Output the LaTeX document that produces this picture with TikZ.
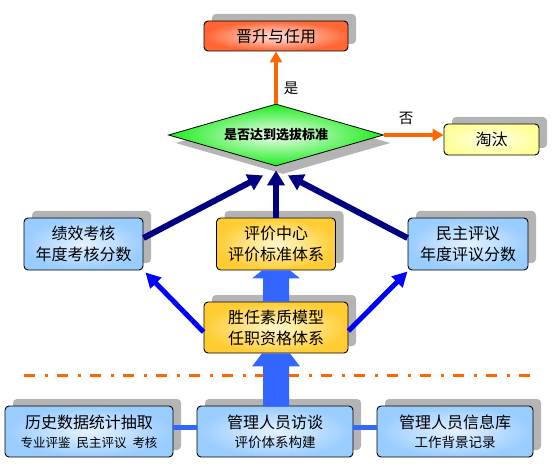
\documentclass[tikz,border=0pt]{standalone}
\usepackage{fontspec}
\newfontfamily\cjk{Noto Sans CJK SC}
\usetikzlibrary{shapes.geometric,shadows,arrows.meta}
\definecolor{bluefill}{RGB}{153,204,255}
\definecolor{bluein}{RGB}{228,242,255}
\definecolor{goldfill}{RGB}{255,204,51}
\definecolor{goldin}{RGB}{255,248,205}
\definecolor{redfill}{RGB}{255,102,51}
\definecolor{redin}{RGB}{255,228,228}
\definecolor{lemonfill}{RGB}{255,255,153}
\definecolor{lemonin}{RGB}{255,255,235}
\definecolor{greenfill}{RGB}{30,235,30}
\definecolor{greenin}{RGB}{242,255,242}
\definecolor{navyc}{RGB}{0,0,128}
\definecolor{bluec}{RGB}{0,0,255}
\definecolor{blockc}{RGB}{51,102,255}
\definecolor{orangec}{RGB}{255,102,0}
\definecolor{shadowc}{RGB}{180,180,180}
\tikzset{
  box/.style={rectangle, rounded corners=4pt, draw=black, line width=0.9pt,
    inner sep=0pt, align=center, text=black,
    font=\cjk\fontsize{16}{21}\selectfont,
    general shadow={shadow xshift=8pt, shadow yshift=7pt, fill=shadowc, draw=none}},
  bluebox/.style={box, inner color=bluein, outer color=bluefill},
  goldbox/.style={box, inner color=goldin, outer color=goldfill},
  redbox/.style={box, inner color=redin, outer color=redfill},
  lemonbox/.style={box, inner color=lemonin, outer color=lemonfill},
  decision/.style={diamond, aspect=3.47, draw=black, line width=0.8pt, inner sep=0pt,
    inner color=greenin, outer color=greenfill,
    font=\cjk\bfseries\fontsize{13}{15}\selectfont,
    general shadow={shadow xshift=7pt, shadow yshift=-8pt, fill=shadowc, draw=none}},
  orangearrow/.style={draw=orangec, line width=4pt, -{Triangle[length=11pt,width=12pt]}},
  navyarrow/.style={draw=navyc, line width=6pt, -{Triangle[length=15pt,width=17pt]}},
  bluearrow/.style={draw=bluec, line width=5pt, -{Triangle[length=15pt,width=15pt]}},
  blockarrow/.style={fill=blockc, draw=none},
  linkline/.style={draw=blockc, line width=5pt},
  sepline/.style={draw=orangec, line width=3pt, dash pattern=on 11pt off 10pt on 3pt off 9pt},
  lbl/.style={font=\cjk\fontsize{14.5}{16}\selectfont, inner sep=0pt}
}
\newcommand{\smalltext}{\fontsize{12.5}{14}\selectfont}
\begin{document}
\begin{tikzpicture}[x=1pt,y=-1pt]
\useasboundingbox (0,0) rectangle (552,468);
% separator
\coordinate (dl) at (24,375);
\coordinate (dr) at (531,375);
\draw[sepline] (dl) -- (dr);
% nodes
\node[redbox, minimum width=144pt, minimum height=30pt] (jin) at (276,36) {晋升与任用};
\node[decision, minimum width=215pt, minimum height=62pt] (dec) at (276,135) {是否达到选拔标准};
\node[lemonbox, minimum width=95pt, minimum height=31pt] (tt) at (491.5,139.5) {淘汰};
\node[bluebox, minimum width=119pt, minimum height=52pt] (jx) at (83.5,244) {绩效考核\\年度考核分数};
\node[goldbox, minimum width=119pt, minimum height=52pt] (pj) at (276,244) {评价中心\\评价标准体系};
\node[bluebox, minimum width=120pt, minimum height=52pt] (mz) at (468,244) {民主评议\\年度评议分数};
\node[goldbox, minimum width=144pt, minimum height=51pt] (sr) at (276,327.5) {胜任素质模型\\任职资格体系};
\node[bluebox, minimum width=168pt, minimum height=51pt] (ls) at (89,431.5) {历史数据统计抽取\\[-2pt]{\smalltext 专业评鉴\hspace{6pt}民主评议\hspace{6pt}考核}};
\node[bluebox, minimum width=156pt, minimum height=51pt] (ft) at (275,431.5) {管理人员访谈\\[-2pt]{\smalltext\fontsize{13.5}{14}\selectfont 评价体系构建}};
\node[bluebox, minimum width=156pt, minimum height=51pt] (xx) at (455,431.5) {管理人员信息库\\[-2pt]{\smalltext\fontsize{13.5}{14}\selectfont 工作背景记录}};
% labels
\node[lbl] (yes) at (291,88) {是};
\node[lbl] (no) at (406,118) {否};
% orange arrows
\draw[orangearrow] (dec.north) -- (jin.south);
\draw[orangearrow] (dec.east) -- (dec.east -| tt.west);
% navy arrows
\draw[navyarrow] ([yshift=6pt]jx.east) -- ([xshift=-13pt,yshift=-9pt]dec.south);
\draw[navyarrow] (pj.north) -- ([yshift=-4pt]dec.south);
\draw[navyarrow] ([yshift=6pt]mz.west) -- ([xshift=12pt,yshift=-9pt]dec.south);
% blue arrows
\draw[bluearrow] ([yshift=-4.5pt]sr.west) -- ([xshift=2pt,yshift=-2pt]jx.south east);
\draw[bluearrow] ([yshift=-3.5pt]sr.east) -- ([yshift=-1pt]mz.south west);
% block arrows
\fill[blockarrow] ([xshift=-13pt]sr.north) -- ([xshift=-13pt,yshift=-8pt]pj.south)
  -- ([xshift=-24pt,yshift=-8pt]pj.south) -- ([xshift=-14pt]pj.south)
  -- ([xshift=14pt]pj.south) -- ([xshift=24pt,yshift=-8pt]pj.south)
  -- ([xshift=13pt,yshift=-8pt]pj.south) -- ([xshift=13pt]sr.north) -- cycle;
\fill[blockarrow] ([xshift=-13pt,yshift=-53pt]sr.south) -- ([xshift=-13pt,yshift=-13pt]sr.south)
  -- ([xshift=-24pt,yshift=-13pt]sr.south) -- ([xshift=-14pt]sr.south)
  -- ([xshift=14pt]sr.south) -- ([xshift=24pt,yshift=-13pt]sr.south)
  -- ([xshift=13pt,yshift=-13pt]sr.south) -- ([xshift=13pt,yshift=-53pt]sr.south) -- cycle;
% bottom links
\draw[linkline] ([yshift=4.5pt]ls.east) -- ([yshift=4.5pt]ft.west);
\draw[linkline] ([yshift=4.5pt]ft.east) -- ([yshift=4.5pt]xx.west);
\end{tikzpicture}
\end{document}
